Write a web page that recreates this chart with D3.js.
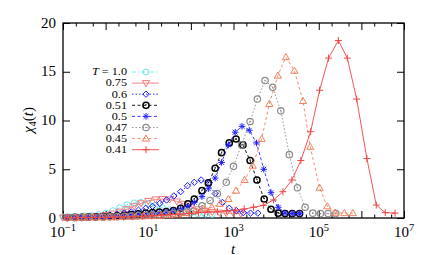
<!DOCTYPE html>
<html>
<head>
<meta charset="utf-8">
<script src="https://cdn.jsdelivr.net/npm/d3@7"></script>
<style>
  body { margin: 0; background: #fff; }
  svg { display: block; }
</style>
</head>
<body>
<svg id="chart" width="436" height="255" font-family="'Liberation Serif', 'DejaVu Serif', serif"></svg>
<script>
// valeurs : log10(t) et chi_4(t) pour chaque temperature
var labels = ["1.0", "0.75", "0.6", "0.51", "0.5", "0.47", "0.45", "0.41"];

var lt100 = [-1, -0.83, -0.67, -0.5, -0.33, -0.17, 0, 0.17, 0.33, 0.5, 0.67, 0.83, 1.0, 1.17, 1.33, 1.5, 1.67, 1.83, 2.0, 2.17, 2.33, 2.5];
var chi100 = [0.1, 0.12, 0.15, 0.2, 0.25, 0.35, 0.5, 0.75, 1.05, 1.35, 1.55, 1.6, 1.5, 1.3, 1.05, 0.85, 0.7, 0.6, 0.5, 0.45, 0.4, 0.38];

var lt075 = [-1, -0.83, -0.67, -0.5, -0.33, -0.17, 0, 0.17, 0.33, 0.5, 0.67, 0.83, 1.0, 1.17, 1.33, 1.5, 1.67, 1.83, 2.0, 2.17, 2.33, 2.5, 2.67, 2.83, 3.0, 3.17];
var chi075 = [0.05, 0.07, 0.1, 0.12, 0.15, 0.2, 0.3, 0.45, 0.65, 0.9, 1.2, 1.5, 1.75, 1.9, 1.95, 1.9, 1.7, 1.45, 1.15, 0.9, 0.75, 0.62, 0.55, 0.5, 0.48, 0.45];

var lt060 = [-0.9, -0.73, -0.56, -0.4, -0.23, -0.06, 0.1, 0.27, 0.44, 0.6, 0.77, 0.94, 1.1, 1.27, 1.43, 1.6, 1.76, 1.92, 2.08, 2.24, 2.41, 2.57, 2.74, 2.9, 3.07, 3.23, 3.4, 3.57];
var chi060 = [0.06, 0.08, 0.1, 0.12, 0.15, 0.2, 0.28, 0.38, 0.5, 0.62, 0.8, 1.0, 1.2, 1.5, 1.85, 2.26, 2.7, 3.3, 3.66, 3.9, 3.5, 2.5, 1.6, 1.0, 0.75, 0.55, 0.5, 0.5];

var lt051 = [-0.9, -0.73, -0.56, -0.4, -0.23, -0.06, 0.1, 0.27, 0.44, 0.6, 0.77, 0.94, 1.1, 1.26, 1.42, 1.59, 1.76, 1.93, 2.08, 2.26, 2.41, 2.57, 2.72, 2.9, 3.06, 3.22, 3.39, 3.55, 3.72, 3.88, 4.05, 4.21, 4.38, 4.55];
var chi051 = [0.05, 0.06, 0.07, 0.09, 0.11, 0.14, 0.18, 0.22, 0.28, 0.35, 0.42, 0.5, 0.55, 0.6, 0.65, 0.75, 1.0, 1.44, 1.95, 2.8, 3.6, 5.1, 6.7, 7.7, 8.1, 7.5, 5.9, 3.9, 1.95, 0.9, 0.5, 0.45, 0.45, 0.45];

var lt050 = [-0.9, -0.73, -0.56, -0.4, -0.23, -0.06, 0.1, 0.27, 0.44, 0.6, 0.77, 0.94, 1.1, 1.26, 1.42, 1.59, 1.76, 1.93, 2.08, 2.26, 2.41, 2.57, 2.72, 2.88, 3.04, 3.2, 3.37, 3.54, 3.71, 3.88, 4.05, 4.21, 4.38, 4.55];
var chi050 = [0.05, 0.06, 0.07, 0.08, 0.1, 0.12, 0.15, 0.19, 0.24, 0.3, 0.36, 0.42, 0.48, 0.55, 0.62, 0.72, 0.9, 1.2, 1.6, 2.2, 3.0, 4.1, 5.7, 7.5, 8.8, 9.4, 9.0, 7.7, 5.0, 2.6, 1.1, 0.5, 0.45, 0.45];

var lt047 = [-0.9, -0.73, -0.56, -0.4, -0.23, -0.06, 0.1, 0.27, 0.44, 0.6, 0.77, 0.94, 1.1, 1.26, 1.42, 1.58, 1.74, 1.9, 2.06, 2.26, 2.45, 2.62, 2.83, 3.0, 3.19, 3.39, 3.56, 3.74, 3.92, 4.11, 4.31, 4.5, 4.68, 4.86, 5.04, 5.22, 5.4];
var chi047 = [0.04, 0.05, 0.06, 0.07, 0.08, 0.1, 0.12, 0.14, 0.17, 0.2, 0.24, 0.28, 0.32, 0.36, 0.4, 0.45, 0.52, 0.6, 0.7, 1.25, 1.8, 2.5, 3.66, 5.3, 7.5, 9.9, 12.2, 14.1, 13.4, 11.0, 6.5, 3.1, 1.1, 0.5, 0.45, 0.45, 0.45];

var lt045 = [-0.9, -0.7, -0.5, -0.3, -0.1, 0.1, 0.3, 0.5, 0.7, 0.9, 1.1, 1.3, 1.5, 1.7, 1.9, 2.1, 2.3, 2.49, 2.68, 2.88, 3.06, 3.26, 3.45, 3.66, 3.84, 4.04, 4.23, 4.43, 4.63, 4.8, 5.02, 5.2, 5.38, 5.6, 5.8];
var chi045 = [0.03, 0.04, 0.05, 0.06, 0.07, 0.08, 0.1, 0.12, 0.14, 0.17, 0.2, 0.24, 0.3, 0.38, 0.5, 0.68, 0.9, 1.1, 1.45, 1.95, 2.8, 3.9, 5.36, 8.1, 11.7, 14.6, 16.5, 15.1, 12.0, 7.3, 3.1, 1.2, 0.55, 0.5, 0.5];

var lt041 = [-0.9, -0.68, -0.46, -0.24, -0.02, 0.2, 0.42, 0.64, 0.86, 1.08, 1.3, 1.52, 1.74, 1.96, 2.18, 2.4, 2.62, 2.84, 3.04, 3.25, 3.47, 3.7, 3.94, 4.16, 4.37, 4.58, 4.81, 5.02, 5.23, 5.46, 5.67, 5.89, 6.13, 6.35, 6.56, 6.79];
var chi041 = [0.02, 0.03, 0.04, 0.05, 0.06, 0.08, 0.1, 0.13, 0.17, 0.22, 0.28, 0.34, 0.4, 0.46, 0.55, 0.6, 0.65, 0.72, 0.8, 0.92, 1.1, 1.3, 1.85, 2.7, 3.9, 5.9, 8.85, 13.1, 16.4, 18.2, 16.4, 12.2, 6.1, 1.33, 0.55, 0.5];

var xTickExp = [-1, 0, 1, 2, 3, 4, 5, 6, 7];
var xLabelExp = [-1, 1, 3, 5, 7];
var yTicks = [0, 5, 10, 15, 20];

var series = [
    {lt: lt100, chi: chi100, color: "#6fe3ea", dash: "4,2,1,2", mark: "circle"},
    {lt: lt075, chi: chi075, color: "#f07a7a", dash: null,      mark: "tridown"},
    {lt: lt060, chi: chi060, color: "#1a1aff", dash: "1.5,2",   mark: "diamond"},
    {lt: lt051, chi: chi051, color: "#000000", dash: "3,2.5",   mark: "bold"},
    {lt: lt050, chi: chi050, color: "#2020ff", dash: "3,2.5",   mark: "star"},
    {lt: lt047, chi: chi047, color: "#8a8a8a", dash: "1.5,2",   mark: "dotcircle"},
    {lt: lt045, chi: chi045, color: "#f4805e", dash: "3,2.5",   mark: "triup"},
    {lt: lt041, chi: chi041, color: "#f04545", dash: null,      mark: "plus"}
];

var svg = d3.select("#chart");
var L = 63, R = 404, T = 23, B = 218;

var x = d3.scaleLog().domain([0.1, 1e7]).range([L, R]);
var y = d3.scaleLinear().domain([0, 20]).range([B, T]);

// ticks de l'axe x (vers l'interieur)
var majors = xTickExp.map(function(e) { return Math.pow(10, e); });
var minors = [];
xTickExp.slice(0, -1).forEach(function(e) {
    [2, 5].forEach(function(m) { minors.push(m * Math.pow(10, e)); });
});

svg.append("g").attr("transform", "translate(0," + B + ")")
    .call(d3.axisBottom(x).tickValues(majors).tickSize(-7).tickFormat(""));
svg.append("g").attr("transform", "translate(0," + B + ")")
    .call(d3.axisBottom(x).tickValues(minors).tickSize(-3.5).tickFormat(""));
svg.append("g").attr("transform", "translate(0," + T + ")")
    .call(d3.axisTop(x).tickValues(majors).tickSize(-7).tickFormat(""));
svg.append("g").attr("transform", "translate(0," + T + ")")
    .call(d3.axisTop(x).tickValues(minors).tickSize(-3.5).tickFormat(""));
svg.append("g").attr("transform", "translate(" + L + ",0)")
    .call(d3.axisLeft(y).tickValues(yTicks).tickSize(-7).tickFormat(""));
svg.append("g").attr("transform", "translate(" + R + ",0)")
    .call(d3.axisRight(y).tickValues(yTicks).tickSize(-7).tickFormat(""));

svg.selectAll(".domain").remove();
svg.selectAll(".tick line").attr("stroke", "#000").attr("stroke-width", 1);

svg.append("rect")
    .attr("x", L).attr("y", T).attr("width", R - L).attr("height", B - T)
    .attr("fill", "none").attr("stroke", "#000").attr("stroke-width", 1.3);

// etiquettes
svg.selectAll(".ylab").data(yTicks).enter().append("text")
    .attr("class", "ylab")
    .attr("x", L - 7).attr("y", function(d) { return y(d) + 4.5; })
    .attr("text-anchor", "end").attr("font-size", 15)
    .text(function(d) { return d; });

var xl = svg.selectAll(".xlab").data(xLabelExp).enter().append("text")
    .attr("class", "xlab")
    .attr("x", function(d) { return x(Math.pow(10, d)); }).attr("y", 237)
    .attr("text-anchor", "middle").attr("font-size", 15);
xl.append("tspan").text("10");
xl.append("tspan").attr("dy", -6).attr("font-size", 10.5)
    .text(function(d) { return d < 0 ? "\u2212" + (-d) : d; });

svg.append("text").attr("x", 233).attr("y", 253.5).attr("text-anchor", "middle")
    .attr("font-size", 15).attr("font-style", "italic").text("t");

var yl = svg.append("text").attr("transform", "translate(33,120) rotate(-90)")
    .attr("text-anchor", "middle").attr("font-size", 15);
yl.append("tspan").attr("font-style", "italic").text("\u03c7");
yl.append("tspan").attr("font-size", 10.5).attr("dy", 3).text("4");
yl.append("tspan").attr("dy", -3).text("(");
yl.append("tspan").attr("font-style", "italic").text("t");
yl.append("tspan").text(")");

// marqueurs
function drawMark(g, kind, color, cx, cy) {
    var s;
    switch (kind) {
    case "circle":
        g.append("circle").attr("cx", cx).attr("cy", cy).attr("r", 3)
            .attr("fill", "none").attr("stroke", color).attr("stroke-width", 1);
        break;
    case "bold":
        g.append("circle").attr("cx", cx).attr("cy", cy).attr("r", 3.1)
            .attr("fill", "none").attr("stroke", color).attr("stroke-width", 1.5);
        g.append("circle").attr("cx", cx).attr("cy", cy - 0.5).attr("r", 0.7).attr("fill", color);
        break;
    case "dotcircle":
        g.append("circle").attr("cx", cx).attr("cy", cy).attr("r", 3.2)
            .attr("fill", "none").attr("stroke", color).attr("stroke-width", 1.2);
        g.append("circle").attr("cx", cx).attr("cy", cy).attr("r", 0.8).attr("fill", color);
        break;
    case "diamond":
        s = 3.2;
        g.append("path").attr("d", "M" + cx + "," + (cy - s) + "L" + (cx + s) + "," + cy + "L" + cx + "," + (cy + s) + "L" + (cx - s) + "," + cy + "Z")
            .attr("fill", "none").attr("stroke", color).attr("stroke-width", 1);
        break;
    case "triup":
        s = 3.6;
        g.append("path").attr("d", "M" + cx + "," + (cy - s) + "L" + (cx + s) + "," + (cy + s * 0.7) + "L" + (cx - s) + "," + (cy + s * 0.7) + "Z")
            .attr("fill", "none").attr("stroke", color).attr("stroke-width", 1);
        break;
    case "tridown":
        s = 3.6;
        g.append("path").attr("d", "M" + cx + "," + (cy + s) + "L" + (cx + s) + "," + (cy - s * 0.7) + "L" + (cx - s) + "," + (cy - s * 0.7) + "Z")
            .attr("fill", "none").attr("stroke", color).attr("stroke-width", 1);
        break;
    case "plus":
        s = 3.5;
        g.append("path").attr("d", "M" + (cx - s) + "," + cy + "H" + (cx + s) + "M" + cx + "," + (cy - s) + "V" + (cy + s))
            .attr("fill", "none").attr("stroke", color).attr("stroke-width", 1);
        break;
    case "star":
        s = 3.3;
        var d = 0.72 * s;
        g.append("path").attr("d", "M" + (cx - s) + "," + cy + "H" + (cx + s) + "M" + cx + "," + (cy - s) + "V" + (cy + s) +
                "M" + (cx - d) + "," + (cy - d) + "L" + (cx + d) + "," + (cy + d) + "M" + (cx - d) + "," + (cy + d) + "L" + (cx + d) + "," + (cy - d))
            .attr("fill", "none").attr("stroke", color).attr("stroke-width", 1);
        break;
    }
}

var line = d3.line()
    .x(function(d) { return x(Math.pow(10, d[0])); })
    .y(function(d) { return y(d[1]); });

series.forEach(function(s) {
    var pts = d3.zip(s.lt, s.chi);
    var g = svg.append("g");
    g.append("path").datum(pts).attr("d", line)
        .attr("fill", "none").attr("stroke", s.color).attr("stroke-width", 0.9)
        .attr("stroke-dasharray", s.dash);
    pts.forEach(function(p) {
        drawMark(g, s.mark, s.color, x(Math.pow(10, p[0])), y(p[1]));
    });
});

// legende (texte elargi horizontalement, comme les chiffres de la figure)
var lg = svg.append("g");
series.forEach(function(s, i) {
    var yy = 72 + 11.1 * i;
    var t = lg.append("text")
        .attr("transform", "translate(127," + (yy + 3.3) + ") scale(1.22,1)")
        .attr("text-anchor", "end").attr("font-size", 10);
    if (i === 0) {
        t.append("tspan").attr("font-style", "italic").text("T");
        t.append("tspan").text(" = " + labels[i]);
    } else {
        t.text(labels[i]);
    }
    lg.append("line").attr("x1", 132).attr("x2", 159).attr("y1", yy).attr("y2", yy)
        .attr("stroke", s.color).attr("stroke-width", 0.9).attr("stroke-dasharray", s.dash);
    drawMark(lg, s.mark, s.color, 146, yy);
});
</script>
</body>
</html>
